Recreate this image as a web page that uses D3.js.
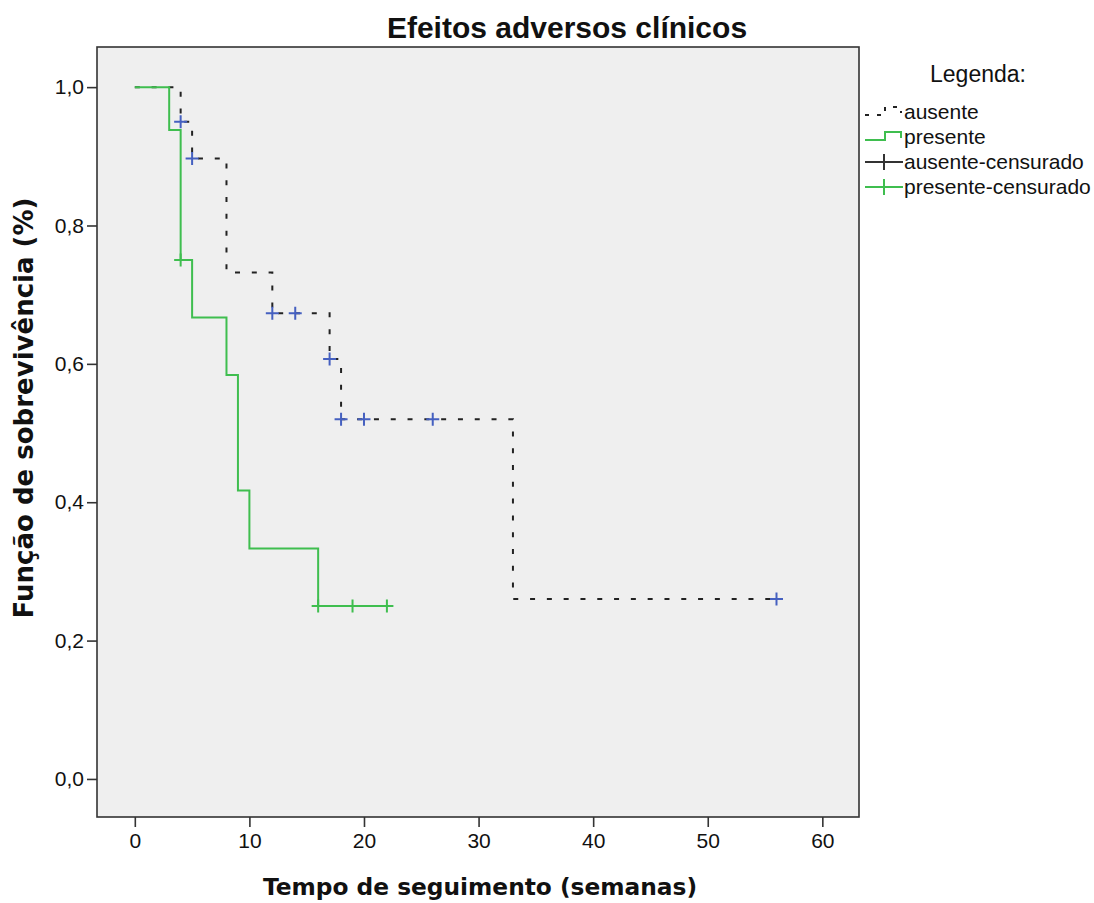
<!DOCTYPE html>
<html>
<head>
<meta charset="utf-8">
<script src="https://cdn.jsdelivr.net/npm/d3@7"></script>
<style>
  body { margin: 0; background: #fff; }
  svg text { fill: #111; }
</style>
</head>
<body>
<svg id="chart" width="1094" height="903"></svg>
<script>
// Kaplan-Meier steps
const ausenteTimes = [0, 4, 5, 8, 12, 17, 18, 33, 56];
const ausenteSurv  = [1.0, 0.95, 0.897, 0.732, 0.673, 0.607, 0.52, 0.26, 0.26];
const ausenteCensTimes = [4, 5, 12, 14, 17, 18, 20, 26, 56];
const ausenteCensSurv  = [0.95, 0.897, 0.673, 0.673, 0.607, 0.52, 0.52, 0.52, 0.26];

const presenteTimes = [0, 3, 4, 5, 8, 9, 10, 16, 22];
const presenteSurv  = [1.0, 0.938, 0.75, 0.667, 0.584, 0.417, 0.333, 0.25, 0.25];
const presenteCensTimes = [4, 16, 19, 22];
const presenteCensSurv  = [0.75, 0.25, 0.25, 0.25];

const xTicks = [0, 10, 20, 30, 40, 50, 60];
const yTicks = [0, 0.2, 0.4, 0.6, 0.8, 1.0];
const legendLabels = ["ausente", "presente", "ausente-censurado", "presente-censurado"];

const green = "#3fbe4f";
const blue = "#4560c0";
const dark = "#222";

const svg = d3.select("#chart");
const margin = { top: 47, left: 97 };
const width = 762, height = 770;

const x = d3.scaleLinear().domain([-3.3, 63.2]).range([0, width]);
const y = d3.scaleLinear().domain([-0.055, 1.058]).range([height, 0]);

svg.append("text")
    .attr("x", 567).attr("y", 38)
    .attr("text-anchor", "middle")
    .style("font", "bold 30px 'Liberation Sans', Arial, sans-serif")
    .text("Efeitos adversos clínicos");

const chart = svg.append("g").attr("transform", `translate(${margin.left},${margin.top})`);

chart.append("rect")
    .attr("width", width).attr("height", height)
    .attr("fill", "#efefef").attr("stroke", "#333").attr("stroke-width", 1.6);

const xAxis = chart.append("g")
    .attr("transform", `translate(0,${height})`)
    .call(d3.axisBottom(x).tickValues(xTicks).tickSize(10).tickPadding(6).tickFormat(d3.format("d")));
const yAxis = chart.append("g")
    .call(d3.axisLeft(y).tickValues(yTicks).tickSize(10).tickPadding(3).tickFormat(d => d3.format(".1f")(d).replace(".", ",")));

[xAxis, yAxis].forEach(a => {
    a.select(".domain").remove();
    a.selectAll("line").attr("stroke", "#333").attr("stroke-width", 1.6);
    a.selectAll("text").attr("fill", "#222")
        .style("font", "21px 'Liberation Sans', Arial, sans-serif");
});

const stepLine = d3.line().x(d => x(d[0])).y(d => y(d[1])).curve(d3.curveStepAfter);

chart.append("path")
    .datum(d3.zip(ausenteTimes, ausenteSurv))
    .attr("d", stepLine)
    .attr("fill", "none").attr("stroke", dark).attr("stroke-width", 2)
    .attr("stroke-dasharray", "5,11.8");

chart.append("path")
    .datum(d3.zip(presenteTimes, presenteSurv))
    .attr("d", stepLine)
    .attr("fill", "none").attr("stroke", green).attr("stroke-width", 2);

function drawPlus(data, color) {
    chart.append("g").selectAll("path")
        .data(data)
        .join("path")
        .attr("d", d => `M${x(d[0]) - 6.5},${y(d[1])}h13M${x(d[0])},${y(d[1]) - 6.5}v13`)
        .attr("stroke", color).attr("stroke-width", 2).attr("fill", "none");
}
drawPlus(d3.zip(ausenteCensTimes, ausenteCensSurv), blue);
drawPlus(d3.zip(presenteCensTimes, presenteCensSurv), green);

svg.append("text")
    .attr("x", 480).attr("y", 895)
    .attr("text-anchor", "middle")
    .style("font", "bold 23.3px 'DejaVu Sans', Verdana, sans-serif")
    .text("Tempo de seguimento (semanas)");

svg.append("text")
    .attr("transform", "translate(33,408) rotate(-90)")
    .attr("text-anchor", "middle")
    .style("font", "bold 26px 'DejaVu Sans', Verdana, sans-serif")
    .text("Função de sobrevivência (%)");

// legend
const legend = svg.append("g").attr("transform", "translate(864,0)");
legend.append("text")
    .attr("x", 114).attr("y", 82)
    .attr("text-anchor", "middle")
    .style("font", "23px 'Liberation Sans', Arial, sans-serif")
    .text("Legenda:");

const rowY = [112, 137, 162, 187];
const items = legend.selectAll(".item")
    .data(legendLabels)
    .join("g")
    .attr("class", "item")
    .attr("transform", (d, i) => `translate(0,${rowY[i]})`);

items.append("text")
    .attr("x", 40).attr("y", 7)
    .style("font", "21px 'Liberation Sans', Arial, sans-serif")
    .text(d => d);

items.filter((d, i) => i < 2).append("path")
    .attr("d", "M1,3H21V-5H37V1")
    .attr("fill", "none").attr("stroke-width", 2)
    .attr("stroke", (d, i) => i === 0 ? dark : green)
    .attr("stroke-dasharray", (d, i) => i === 0 ? "4,8" : null);

items.filter((d, i) => i >= 2).append("path")
    .attr("d", "M1,0H39M20,-8V8")
    .attr("fill", "none").attr("stroke-width", 2)
    .attr("stroke", (d, i) => i === 0 ? "#333" : green);
</script>
</body>
</html>
